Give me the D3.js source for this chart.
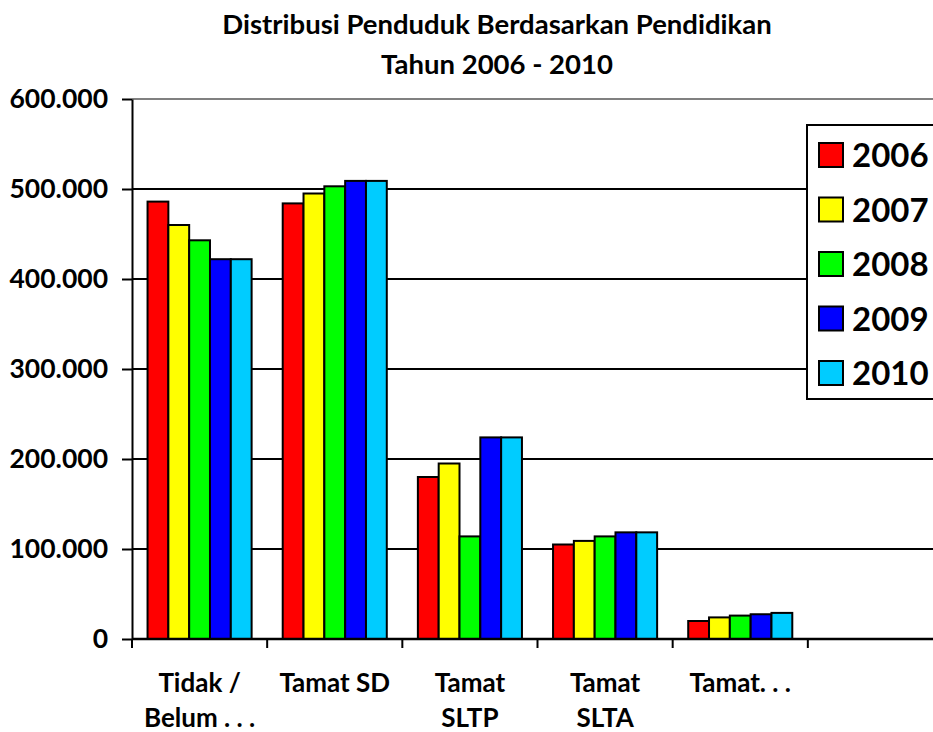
<!DOCTYPE html>
<html><head><meta charset="utf-8">
<script src="https://cdn.jsdelivr.net/npm/d3@7"></script>
<style>body{margin:0;background:#fff}svg{display:block}text{font-family:Lato,"Open Sans",sans-serif;font-weight:bold;fill:#000}</style>
</head><body>
<svg id="c" width="933" height="732"></svg>
<script>
const categories = [["Tidak /","Belum . . ."],["Tamat SD"],["Tamat","SLTP"],["Tamat","SLTA"],["Tamat. . ."],[]];
const years = ["2006","2007","2008","2009","2010"];
const colors = ["#FF0000","#FFFF00","#00FF00","#0000FF","#00CCFF"];
const values = {
  "2006":[486000,484000,180000,105000,20000],
  "2007":[460000,495000,195000,109000,24000],
  "2008":[443000,503000,114000,114000,26000],
  "2009":[422000,509000,224000,118500,27500],
  "2010":[422000,509000,224000,118500,29000]
};
const yTicks = [0,100000,200000,300000,400000,500000,600000];
const yTickLabels = ["0","100.000","200.000","300.000","400.000","500.000","600.000"];

const svg = d3.select("#c");
const x0 = 132, x1 = 943, yTop = 99, yBot = 639;
const catIdx = d3.range(categories.length);
const x = d3.scaleBand().domain(catIdx).range([x0,x1]).paddingInner(0.23).paddingOuter(0.115);
const xs = d3.scaleBand().domain(years).range([0,x.bandwidth()]);
const y = d3.scaleLinear().domain([0,600000]).range([yBot,yTop]);

// gridlines
svg.append("g").selectAll("line").data(yTicks.filter(t=>t>0)).join("line")
  .attr("x1",x0).attr("x2",933).attr("y1",d=>y(d)).attr("y2",d=>y(d))
  .attr("stroke",d=>d===600000?"#808080":"#000").attr("stroke-width",2);

// bars
const data = [];
categories.forEach((c,i)=>{ years.forEach((yr,j)=>{ if(values[yr][i]!==undefined) data.push({i,yr,j,v:values[yr][i]}); }); });
svg.append("g").selectAll("rect").data(data).join("rect")
  .attr("x",d=>x(d.i)+xs(d.yr)).attr("width",xs.bandwidth())
  .attr("y",d=>y(d.v)).attr("height",d=>yBot-y(d.v))
  .attr("fill",d=>colors[d.j]).attr("stroke","#000").attr("stroke-width",2);

// y axis
const ya = svg.append("g").attr("transform",`translate(${x0},0)`)
  .call(d3.axisLeft(y).tickValues(yTicks).tickSize(10).tickSizeOuter(0).tickFormat((d,i)=>yTickLabels[i]));
ya.select(".domain").attr("stroke","#000").attr("stroke-width",2);
ya.selectAll(".tick line").attr("stroke","#000").attr("stroke-width",2);
ya.selectAll(".tick text").attr("x",-24).style("font-size","26.5px").style("font-family","Lato").style("font-weight","bold").attr("fill","#000");

// x axis
const xa = svg.append("g").attr("transform",`translate(0,${yBot})`);
xa.append("line").attr("x1",x0).attr("x2",933).attr("y1",0).attr("y2",0).attr("stroke","#000").attr("stroke-width",2.5);
const tickPos = d3.range(categories.length+1).map(k=>x0 + k*x.step());
xa.selectAll("line.t").data(tickPos).join("line").attr("class","t")
  .attr("x1",d=>d).attr("x2",d=>d).attr("y1",0).attr("y2",9).attr("stroke","#000").attr("stroke-width",2);
categories.forEach((lines,i)=>{
  lines.forEach((ln,k)=>{
    xa.append("text").attr("x",x(i)+x.bandwidth()/2).attr("y",53+k*35)
      .attr("text-anchor","middle").style("font-size","26px").text(ln);
  });
});

// legend
const lg = svg.append("g");
lg.append("rect").attr("x",807).attr("y",125).attr("width",140).attr("height",274)
  .attr("fill","#fff").attr("stroke","#000").attr("stroke-width",2);
years.forEach((yr,j)=>{
  const cy = 155 + j*54.5;
  lg.append("rect").attr("x",819).attr("y",cy-12).attr("width",24).attr("height",24)
    .attr("fill",colors[j]).attr("stroke","#000").attr("stroke-width",2);
  lg.append("text").attr("x",852).attr("y",cy+12).style("font-size","33px").text(yr);
});

// title
svg.append("text").attr("x",497).attr("y",34).attr("text-anchor","middle").style("font-size","27.5px").text("Distribusi Penduduk Berdasarkan Pendidikan");
svg.append("text").attr("x",497).attr("y",74).attr("text-anchor","middle").style("font-size","27.5px").text("Tahun 2006 - 2010");
</script>
</body></html>
